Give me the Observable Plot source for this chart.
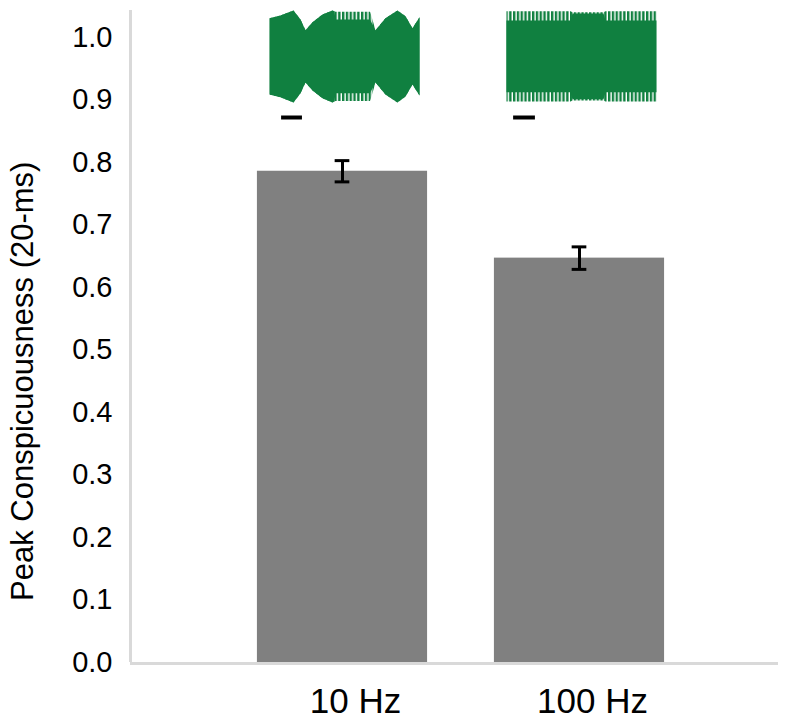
<!DOCTYPE html>
<html>
<head>
<meta charset="utf-8">
<script src="https://cdn.jsdelivr.net/npm/d3@7"></script>
<script src="https://cdn.jsdelivr.net/npm/@observablehq/plot@0.6"></script>
<style>
  html, body { margin: 0; padding: 0; background: #fff; }
  #chart { width: 800px; height: 726px; }
</style>
</head>
<body>
<div id="chart"></div>
<script>
// ---- data ----
const categories = ["10 Hz", "100 Hz"];
const means = [0.786, 0.647];
const errors = [0.017, 0.018];
const yTicks = [0.0, 0.1, 0.2, 0.3, 0.4, 0.5, 0.6, 0.7, 0.8, 0.9, 1.0];
const yLabel = "Peak Conspicuousness (20-ms)";

// stimulus waveform insets: normalized time (0..1) and envelope amplitude (0..1)
const wave10Time  = [0, 0.073, 0.16, 0.207, 0.24, 0.287, 0.353, 0.42, 0.433, 0.44, 0.67, 0.673, 0.707, 0.773, 0.853, 0.907, 0.953, 1.0];
const wave10Outer = [0.83, 0.89, 1.0, 0.80, 0.57, 0.74, 0.91, 1.0, 0.98, 0.97, 0.97, 0.95, 0.57, 0.83, 1.0, 0.87, 0.61, 0.85];
const wave10Inner = [0.83, 0.89, 1.0, 0.80, 0.57, 0.74, 0.91, 1.0, 0.98, 0.80, 0.80, 0.78, 0.57, 0.83, 1.0, 0.87, 0.61, 0.85];
const wave100Time  = [0, 0.427, 0.44, 0.647, 0.66, 1.0];
const wave100Outer = [0.98, 0.98, 0.96, 0.96, 0.98, 0.98];
const wave100Inner = [0.78, 0.78, 0.93, 0.93, 0.78, 0.78];

// ---- derived tables ----
const bars = categories.map((c, i) => ({i, c, m: means[i], e: errors[i]}));

const insetX0 = -0.306, insetX1 = 0.327, insetYc = 0.969, insetHalf = 0.0736;
function waveTable(i, time, outer, inner) {
  return time.map((t, k) => ({
    x: i + insetX0 + t * (insetX1 - insetX0),
    oLo: insetYc - outer[k] * insetHalf, oHi: insetYc + outer[k] * insetHalf,
    iLo: insetYc - inner[k] * insetHalf, iHi: insetYc + inner[k] * insetHalf
  }));
}
const waves = [waveTable(0, wave10Time, wave10Outer, wave10Inner),
               waveTable(1, wave100Time, wave100Outer, wave100Inner)];
const scaleBars = [{x1: -0.257, x2: -0.169}, {x1: 1 - 0.278, x2: 1 - 0.186}];
const scaleBarY = 0.872;

const green = "#108040";
const gray = "#808080";
const axisGray = "#d9d9d9";
const capHalf = 0.031;
const barHalf = 0.359;

const marks = [
  Plot.rectY(bars, {x1: d => d.i - barHalf, x2: d => d.i + barHalf, y1: 0, y2: "m", fill: gray}),
  Plot.ruleX([-0.8945], {stroke: axisGray, strokeWidth: 3}),
  Plot.ruleY([0], {stroke: axisGray, strokeWidth: 3, y: d => d, dy: 1}),
  Plot.ruleX(bars, {x: "i", y1: d => d.m - d.e, y2: d => d.m + d.e, stroke: "#000", strokeWidth: 3}),
  Plot.ruleY(bars, {y: d => d.m + d.e, x1: d => d.i - capHalf, x2: d => d.i + capHalf, stroke: "#000", strokeWidth: 3}),
  Plot.ruleY(bars, {y: d => d.m - d.e, x1: d => d.i - capHalf, x2: d => d.i + capHalf, stroke: "#000", strokeWidth: 3}),
];
for (const w of waves) {
  marks.push(Plot.area(w, {x1: "x", y1: "oLo", y2: "oHi", fill: "url(#teethPattern)"}));
  marks.push(Plot.area(w, {x1: "x", y1: "iLo", y2: "iHi", fill: green}));
}
marks.push(Plot.ruleY(scaleBars, {y: scaleBarY, x1: "x1", x2: "x2", stroke: "#000", strokeWidth: 4}));
marks.push(Plot.axisY({ticks: yTicks, tickFormat: d3.format(".1f"), tickSize: 0, tickPadding: 18, fontSize: 29, label: null}));
marks.push(Plot.axisX({ticks: [0, 1], tickFormat: d => categories[d], tickSize: 0, tickPadding: 26, fontSize: 35, dx: 13, label: null}));
marks.push(Plot.text([yLabel], {text: d => d, y: 0.45, frameAnchor: "left", textAnchor: "middle", lineAnchor: "middle", dx: -107, rotate: -90, fontSize: 31}));

const svg = Plot.plot({
  width: 800,
  height: 726,
  marginTop: 10,
  marginBottom: 64,
  marginLeft: 130,
  marginRight: 22,
  style: {fontFamily: "'Liberation Sans', Arial, sans-serif", color: "#000", background: "#fff"},
  x: {type: "linear", domain: [-0.8945, 1.8397], axis: null},
  y: {type: "linear", domain: [0, 1.0432], axis: null},
  marks
});

// stripe pattern to mimic the individual carrier cycles at the waveform envelope
const defs = d3.select(svg).insert("defs", ":first-child");
const pat = defs.append("pattern").attr("id", "teethPattern")
  .attr("patternUnits", "userSpaceOnUse").attr("width", 3.8).attr("height", 10);
pat.append("rect").attr("x", 0).attr("y", 0).attr("width", 2.4).attr("height", 10).attr("fill", green);

document.getElementById("chart").appendChild(svg);
</script>
</body>
</html>
